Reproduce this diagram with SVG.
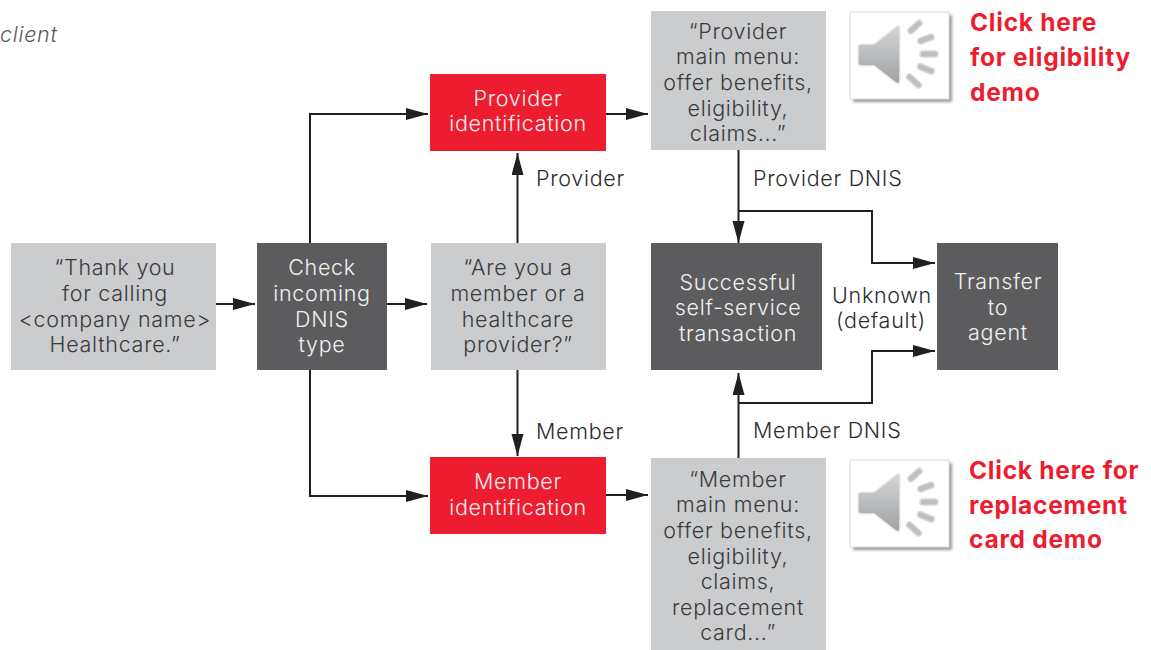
<svg xmlns="http://www.w3.org/2000/svg" width="1151" height="650" viewBox="0 0 1151 650">
<defs>
<marker id="a" markerUnits="userSpaceOnUse" markerWidth="22" markerHeight="14" refX="22" refY="6" orient="auto"><path d="M0 0L22 6L0 12Z" fill="#231f20"/></marker>
<linearGradient id="sp" x1="0" y1="0" x2="0" y2="1"><stop offset="0" stop-color="#d4d5d6"/><stop offset="1" stop-color="#9fa1a3"/></linearGradient>
<filter id="sh" x="-10%" y="-10%" width="125%" height="125%"><feGaussianBlur stdDeviation="1.5"/></filter>
<g id="speaker">
<rect x="3" y="3" width="99" height="87" fill="#9a9a9a" filter="url(#sh)"/>
<rect width="99" height="87" fill="#fff" stroke="#dcdcdc"/>
<path d="M8 35Q8 32 11 32H24L47 14Q50 13 50 17V68Q50 73 46 71L24 54H11Q8 54 8 51Z" fill="url(#sp)" stroke="#ececec" stroke-width="1.5"/>
<g fill="#bcbec0" stroke="#d8d8d8" stroke-width="1.500"><rect x="-8.500" y="-3" width="17" height="6" rx="3" transform="translate(65 15) rotate(-42)"/><rect x="-8.500" y="-3" width="17" height="6" rx="3" transform="translate(76 27) rotate(-20)"/><rect x="-9" y="-3" width="18" height="6" rx="3" transform="translate(79 42)"/><rect x="-9" y="-3" width="18" height="6" rx="3" transform="translate(76 57) rotate(22)"/><rect x="-9" y="-3" width="18" height="6" rx="3" transform="translate(64 69) rotate(42)"/></g>
</g>
</defs>
<style>
text{font-family:"Inter","Open Sans","Liberation Sans",sans-serif;font-size:21.5px;letter-spacing:.7px;font-weight:300;text-anchor:middle}
.l{fill:#cbccce}.d{fill:#5c5c5e}.r{fill:#ed1c2e}
.tk{fill:#3a3a3c}.tw{fill:#f1f1f1}
.lab{fill:#2c2c2e;text-anchor:start}
.cta{fill:#ed1c2e;font-weight:700;font-size:24.5px;letter-spacing:.75px;text-anchor:start}
.c{fill:none;stroke:#231f20;stroke-width:2}
</style>
<text x="0" y="42" style="font-style:italic;text-anchor:start;font-size:21.5px" fill="#58595b">client</text>
<g id="connectors">
<path class="c" marker-end="url(#a)" d="M216 304H255"/>
<path class="c" marker-end="url(#a)" d="M387 304H427"/>
<path class="c" marker-end="url(#a)" d="M310 243V114H428"/>
<path class="c" marker-end="url(#a)" d="M310 370V496H428"/>
<path class="c" marker-end="url(#a)" d="M517.500 243V153"/>
<path class="c" marker-end="url(#a)" d="M517.500 370V456"/>
<path class="c" marker-end="url(#a)" d="M606 114H648"/>
<path class="c" marker-end="url(#a)" d="M606 495H648"/>
<path class="c" marker-end="url(#a)" d="M738.500 150V243"/>
<path class="c" marker-end="url(#a)" d="M738.500 211H872V263H935"/>
<path class="c" marker-end="url(#a)" d="M738.500 458V373"/>
<path class="c" marker-end="url(#a)" d="M738.500 403H872V351H935"/>
</g>
<g id="thanks"><rect class="l" x="11" y="243" width="205" height="127"/><text class="tk" x="115" y="275">“Thank you</text><text class="tk" x="115" y="301">for calling</text><text class="tk" x="115" y="327">&lt;company name&gt;</text><text class="tk" x="115" y="352">Healthcare.”</text></g>
<g id="check"><rect class="d" x="257" y="243" width="130" height="127"/><text class="tw" x="322" y="275">Check</text><text class="tw" x="322" y="301">incoming</text><text class="tw" x="322" y="327">DNIS</text><text class="tw" x="322" y="352">type</text></g>
<g id="question"><rect class="l" x="431" y="243" width="175" height="127"/><text class="tk" x="518" y="275">“Are you a</text><text class="tk" x="518" y="301">member or a</text><text class="tk" x="518" y="327">healthcare</text><text class="tk" x="518" y="352">provider?”</text></g>
<g id="provider-id"><rect class="r" x="430" y="74" width="176" height="77"/><text class="tw" x="518" y="106">Provider</text><text class="tw" x="518" y="131">identification</text></g>
<g id="member-id"><rect class="r" x="430" y="457" width="176" height="77"/><text class="tw" x="518" y="489">Member</text><text class="tw" x="518" y="515">identification</text></g>
<g id="provider-menu"><rect class="l" x="651" y="11" width="175" height="139"/><text class="tk" x="738" y="39">“Provider</text><text class="tk" x="738" y="64">main menu:</text><text class="tk" x="738" y="90">offer benefits,</text><text class="tk" x="738" y="116">eligibility,</text><text class="tk" x="738" y="141">claims...”</text></g>
<g id="member-menu"><rect class="l" x="651" y="458" width="175" height="192"/><text class="tk" x="738" y="487">“Member</text><text class="tk" x="738" y="512">main menu:</text><text class="tk" x="738" y="538">offer benefits,</text><text class="tk" x="738" y="564">eligibility,</text><text class="tk" x="738" y="589">claims,</text><text class="tk" x="738" y="615">replacement</text><text class="tk" x="738" y="640">card...”</text></g>
<g id="success"><rect class="d" x="651" y="243" width="171" height="127"/><text class="tw" x="738" y="290">Successful</text><text class="tw" x="738" y="315">self-service</text><text class="tw" x="738" y="341">transaction</text></g>
<g id="agent"><rect class="d" x="937" y="243" width="121" height="127"/><text class="tw" x="998" y="289">Transfer</text><text class="tw" x="998" y="315">to</text><text class="tw" x="998" y="340">agent</text></g>
<g id="labels">
<text class="lab" x="536" y="186">Provider</text>
<text class="lab" x="536" y="439">Member</text>
<text class="lab" x="753" y="186">Provider DNIS</text>
<text class="lab" x="753" y="438">Member DNIS</text>
<text fill="#2c2c2e" x="882" y="303">Unknown</text>
<text fill="#2c2c2e" x="881" y="328">(default)</text>
</g>
<g id="eligibility-demo"><use href="#speaker" x="850" y="12"/><text class="cta" x="970" y="31">Click here</text><text class="cta" x="970" y="66">for eligibility</text><text class="cta" x="970" y="101">demo</text></g>
<g id="replacement-demo"><use href="#speaker" x="850" y="460"/><text class="cta" x="969" y="479">Click here for</text><text class="cta" x="969" y="514">replacement</text><text class="cta" x="969" y="548">card demo</text></g>
</svg>
